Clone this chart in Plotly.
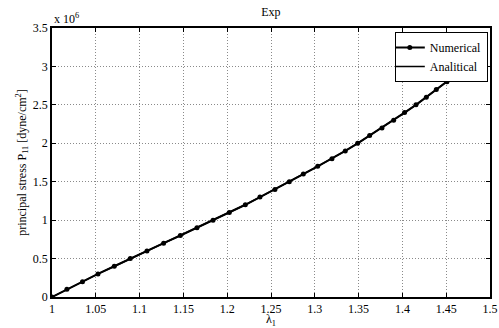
import plotly.graph_objects as go

lam = [1.0, 1.017, 1.0348, 1.0525, 1.0711, 1.0894, 1.1084, 1.1274, 1.1465, 1.1655,
       1.1838, 1.2024, 1.2207, 1.2374, 1.2545, 1.2709, 1.2869, 1.3033, 1.3196, 1.3348,
       1.3489, 1.3626, 1.3767, 1.39, 1.4025, 1.4155, 1.4273, 1.4387, 1.4509, 1.4623, 1.4737]
p11 = [i * 0.1e6 for i in range(31)]
lam_an = lam + [1.485]
p11_an = p11 + [3.1e6]

xticks = [1, 1.05, 1.1, 1.15, 1.2, 1.25, 1.3, 1.35, 1.4, 1.45, 1.5]
xticktext = ["1", "1.05", "1.1", "1.15", "1.2", "1.25", "1.3", "1.35", "1.4", "1.45", "1.5"]
yticks = [0, 0.5e6, 1e6, 1.5e6, 2e6, 2.5e6, 3e6, 3.5e6]
yticktext = ["0", "0.5", "1", "1.5", "2", "2.5", "3", "3.5"]

font = "Liberation Serif, Times New Roman, serif"

fig = go.Figure()
fig.add_trace(go.Scatter(x=lam, y=p11, mode="lines+markers", name="Numerical",
                         line=dict(color="black", width=2),
                         marker=dict(color="black", size=5, symbol="circle")))
fig.add_trace(go.Scatter(x=lam_an, y=p11_an, mode="lines", name="Analitical",
                         line=dict(color="black", width=1.5)))

axis_common = dict(showline=True, linecolor="black", linewidth=1.5, mirror="allticks",
                   ticks="inside", ticklen=4, tickcolor="black", automargin=False,
                   showgrid=True, gridcolor="#8a8a8a", griddash="1px,2px", gridwidth=0.8,
                   zeroline=False, tickfont=dict(family=font, size=12, color="black"))

fig.update_layout(
    width=499, height=328,
    margin=dict(l=52, r=9, t=28, b=31),
    paper_bgcolor="white", plot_bgcolor="white",
    title=dict(text="Exp", x=0.543, xanchor="center", y=0.965, yanchor="middle",
               font=dict(family=font, size=12, color="black")),
    xaxis=dict(range=[1, 1.5], tickvals=xticks, ticktext=xticktext,
               title=dict(text="λ<sub>1</sub>", font=dict(family=font, size=12, color="black"), standoff=2),
               **axis_common),
    yaxis=dict(range=[0, 3.5e6], tickvals=yticks, ticktext=yticktext,
               title=dict(text="principal stress P<sub>11</sub> [dyne/cm<sup>2</sup>]",
                          font=dict(family=font, size=12, color="black"), standoff=4),
               **axis_common),
    legend=dict(x=0.995, y=0.985, xanchor="right", yanchor="top",
                bgcolor="white", bordercolor="black", borderwidth=1,
                font=dict(family=font, size=12, color="black"),
                tracegroupgap=0, itemwidth=30, indentation=-6),
    showlegend=True,
    annotations=[dict(text="x 10<sup>6</sup>", xref="paper", yref="paper", x=0.0, y=1.0,
                      xanchor="left", yanchor="bottom", showarrow=False,
                      font=dict(family=font, size=12, color="black"))],
)

fig.write_html("out.html")
